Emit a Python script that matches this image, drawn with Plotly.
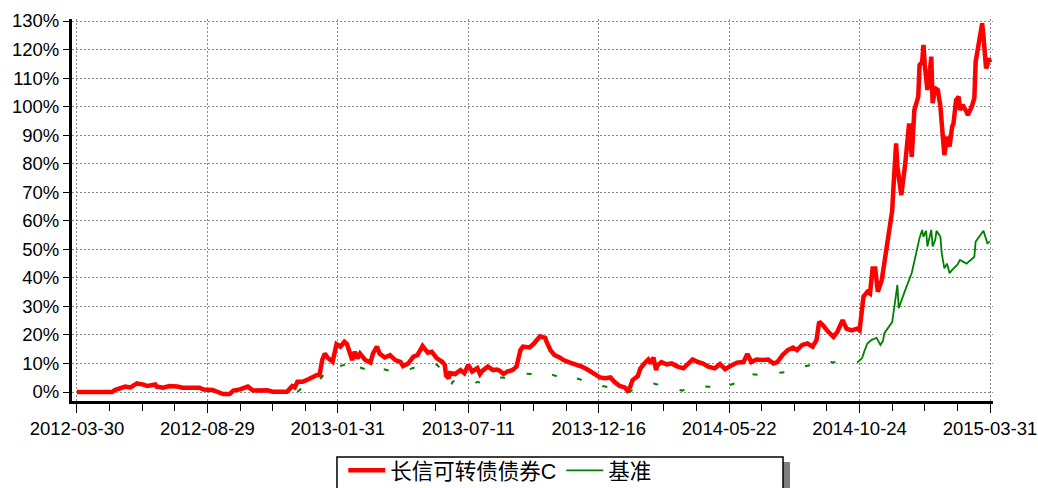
import plotly.graph_objects as go

# ---- data (trading-day index, cumulative return %) ----
fund_day = [0, 27, 29, 37, 41, 46, 51, 54, 60, 61, 66, 71, 77, 81, 94, 97, 104, 110, 112, 117,
            120, 125, 131, 135, 140, 146, 150, 161, 165, 167, 169, 173, 177, 181, 184, 186, 188, 190, 192, 196,
            198, 199, 202, 205, 207, 209, 211, 213, 215, 217, 221, 225, 227, 230, 232, 236, 240, 244, 248, 250,
            254, 258, 261, 265, 267, 269, 272, 276, 280, 282, 283, 285, 286, 290, 294, 297, 300, 303, 307, 309,
            311, 315, 319, 322, 324, 327, 330, 334, 337, 340, 342, 347, 350, 353, 355, 359, 360, 363, 366, 370,
            373, 378, 382, 387, 392, 397, 401, 405, 409, 412, 416, 420, 422, 424, 426, 430, 432, 435, 438, 440,
            442, 444, 445, 448, 452, 456, 460, 465, 468, 472, 476, 480, 484, 489, 493, 497, 501, 506, 511, 514,
            517, 521, 526, 530, 534, 537, 541, 545, 549, 552, 556, 560, 564, 567, 569, 572, 576, 580, 583, 587,
            590, 594, 598, 600, 603, 606, 608, 610, 612, 614, 617, 619, 622, 625, 626, 628, 629, 632, 635, 638,
            640, 642, 645, 646, 648, 649, 650, 652, 654, 655, 656, 658, 660, 662, 663, 665, 667, 669, 671, 672,
            674, 676, 677, 679, 682, 683, 686, 688, 689, 691, 692, 694, 695, 697, 698, 699, 700]
fund_ret = [0.0, 0.0, 0.7, 1.9, 1.6, 3.0, 2.6, 2.1, 2.6, 1.9, 1.5, 2.1, 1.9, 1.5, 1.5, 0.9, 0.7, -0.2, -0.7, -0.7,
            0.5, 0.9, 1.9, 0.5, 0.7, 0.6, 0.1, 0.1, 2.1, 1.6, 3.6, 3.6, 4.4, 5.4, 6.0, 6.0, 11.2, 13.5, 12.1, 10.6,
            14.1, 16.8, 15.9, 17.6, 16.8, 14.5, 11.2, 14.1, 11.8, 13.5, 11.2, 10.3, 13.5, 15.9, 13.5, 12.1, 12.9, 11.2, 10.6, 9.1,
            10.0, 12.4, 12.9, 16.1, 14.7, 13.8, 14.1, 11.8, 10.6, 9.5, 5.8, 4.8, 6.6, 6.3, 7.7, 6.6, 9.5, 7.2, 8.4, 6.3,
            7.5, 8.9, 7.7, 7.9, 7.5, 6.3, 7.2, 7.7, 8.9, 14.7, 15.9, 15.6, 16.8, 18.8, 19.5, 19.0, 17.6, 14.7, 13.0, 12.1,
            11.2, 10.3, 9.8, 8.9, 7.7, 6.3, 5.1, 4.8, 5.1, 3.6, 2.1, 1.6, 0.5, 1.6, 4.2, 5.6, 8.3, 10.0, 11.4, 10.0,
            12.1, 7.7, 9.3, 10.5, 9.7, 10.0, 9.0, 8.3, 9.5, 11.4, 10.5, 10.0, 8.9, 8.3, 9.8, 8.0, 9.1, 10.3, 10.5, 13.3,
            10.5, 11.4, 11.2, 11.4, 10.0, 10.5, 13.0, 14.7, 15.6, 14.7, 16.5, 17.0, 15.9, 18.2, 24.6, 23.4, 21.1, 19.3, 21.1, 25.2,
            22.2, 21.6, 22.2, 21.6, 33.4, 35.1, 34.5, 43.3, 43.3, 35.1, 39.2, 45.7, 54.4, 63.5, 72.0, 87.1, 79.0, 69.0, 80.0, 94.1,
            82.4, 98.8, 103.5, 114.6, 115.7, 121.6, 114.6, 105.8, 112.8, 117.5, 101.2, 106.4, 105.8, 100.0, 94.1, 83.0, 89.5, 86.0, 93.0, 94.1,
            102.3, 103.5, 98.8, 100.6, 98.2, 97.0, 100.0, 103.0, 115.7, 121.6, 122.8, 129.2, 124.5, 113.4, 114.6, 117.0, 115.5]

bench_day = [169, 175, 180, 186, 189, 196, 199, 205, 208, 211, 212, 215, 221, 226, 228, 231, 234, 240, 246, 250,
             255, 261, 264, 268, 272, 276, 281, 284, 287, 288, 292, 297, 305, 307, 311, 314, 318, 320, 328, 338,
             343, 349, 351, 359, 366, 374, 380, 381, 389, 397, 401, 403, 410, 416, 418, 421, 424, 425, 432, 439,
             442, 451, 460, 464, 468, 471, 478, 485, 490, 491, 495, 498, 504, 510, 511, 514, 515, 524, 535, 543,
             547, 549, 558, 568, 571, 576, 579, 583, 589, 594, 599, 602, 604, 606, 609, 613, 616, 618, 619, 625,
             627, 629, 630, 633, 635, 640, 642, 646, 648, 649, 651, 652, 655, 656, 658, 659, 662, 663, 665, 667,
             669, 671, 675, 677, 682, 686, 688, 689, 692, 695, 698, 700]
bench_ret = [0.0, 2.5, 3.5, 4.2, 6.0, 6.0, 8.8, 9.5, 10.3, 8.9, 7.5, 8.9, 8.0, 7.1, 7.9, 8.9, 8.1, 7.5, 6.8, 7.5,
             8.0, 8.9, 9.5, 9.7, 10.3, 9.5, 7.2, 5.4, 2.5, 3.6, 4.4, 3.5, 3.0, 3.6, 3.0, 3.6, 4.2, 5.1, 5.0, 6.0,
             6.5, 6.3, 7.2, 7.0, 5.8, 4.8, 4.2, 5.0, 4.0, 3.3, 3.0, 2.1, 1.5, 0.5, 0.0, 0.0, 0.0, 0.5, 1.5, 2.1,
             3.0, 2.0, 1.0, 0.5, 1.2, 2.1, 2.0, 1.8, 2.1, 3.0, 3.0, 2.1, 3.0, 3.6, 4.2, 5.3, 6.3, 6.0, 6.5, 7.0,
             7.7, 8.5, 9.0, 10.0, 10.6, 11.2, 10.3, 10.6, 10.2, 10.0, 10.6, 12.0, 14.7, 17.0, 18.2, 19.0, 16.5, 18.0, 20.6, 24.5,
             31.0, 37.5, 29.4, 33.4, 35.7, 41.7, 46.0, 54.0, 56.8, 54.4, 56.5, 51.0, 56.8, 51.0, 53.3, 56.5, 54.4, 48.6, 43.3, 45.0,
             41.6, 42.8, 44.6, 46.3, 45.0, 46.5, 47.4, 52.7, 54.4, 56.5, 52.1, 52.7]

tick_days = [0, 100, 200, 300, 400, 500, 600, 700]
tick_labels = ["2012-03-30", "2012-08-29", "2013-01-31", "2013-07-11",
               "2013-12-16", "2014-05-22", "2014-10-24", "2015-03-31"]
y_ticks = list(range(0, 131, 10))
names = ["长信可转债债券C", "基准"]

FONT = "Liberation Sans, Arial, Noto Sans CJK SC, sans-serif"

fig = go.Figure()
# benchmark: flat part drawn sparse-dashed, steep rally part continuous
split = bench_day.index(599)
fig.add_trace(go.Scatter(x=bench_day[:split + 1], y=bench_ret[:split + 1], mode="lines",
                         name=names[1], legendgroup="b", showlegend=False,
                         line=dict(color="#008000", width=2, dash="5px,22px")))
fig.add_trace(go.Scatter(x=fund_day, y=fund_ret, mode="lines", name=names[0],
                         line=dict(color="#ff0000", width=4.5)))
fig.add_trace(go.Scatter(x=bench_day[split:], y=bench_ret[split:], mode="lines",
                         name=names[1], legendgroup="b",
                         line=dict(color="#008000", width=1.8)))

fig.update_layout(
    width=1038, height=488,
    margin=dict(l=72, r=45, t=19, b=87, autoexpand=False),
    paper_bgcolor="white", plot_bgcolor="white",
    font=dict(family=FONT, size=18.5, color="black"),
    showlegend=True,
    legend=dict(orientation="h", x=0.2945, y=-0.128, xanchor="left", yanchor="top",
                bgcolor="rgba(0,0,0,0)", borderwidth=0,
                font=dict(family=FONT, size=21.5, color="black"),
                itemwidth=37, traceorder="normal"),
    shapes=[
        dict(type="rect", xref="paper", yref="paper", x0=0.2932, x1=0.7796, y0=-0.160, y1=-0.30,
             fillcolor="#7f7f7f", line=dict(width=0), layer="above"),
        dict(type="rect", xref="paper", yref="paper", x0=0.2877, x1=0.7720, y0=-0.1466, y1=-0.30,
             fillcolor="white", line=dict(color="black", width=1.5), layer="above"),
    ],
)
fig.update_xaxes(
    range=[-3.8, 702.3], tickmode="array", tickvals=tick_days, ticktext=tick_labels,
    automargin=False, ticklabeloverflow="allow",
    showline=True, linewidth=3, linecolor="black",
    ticks="outside", ticklen=9, tickwidth=1, tickcolor="black",
    showgrid=True, gridcolor="#8a8a8a", griddash="2px,2px", gridwidth=1,
    zeroline=False,
    minor=dict(tickmode="linear", tick0=0, dtick=25, ticks="outside", ticklen=7,
               tickcolor="black", tickwidth=1, showgrid=False),
)
fig.update_yaxes(
    range=[-3.15, 130.7], tickmode="array", tickvals=y_ticks,
    ticktext=[f"{v}%" for v in y_ticks], automargin=False,
    showline=True, linewidth=3, linecolor="black",
    ticks="outside", ticklen=6, tickwidth=1, tickcolor="black",
    showgrid=True, gridcolor="#8a8a8a", griddash="2px,2px", gridwidth=1,
    zeroline=False,
)

# remove the page's default body margin so the figure fills the window exactly
fig.write_html("out.html", config={"displayModeBar": False},
               post_script="document.body.style.margin='0';document.body.style.overflow='hidden';")
